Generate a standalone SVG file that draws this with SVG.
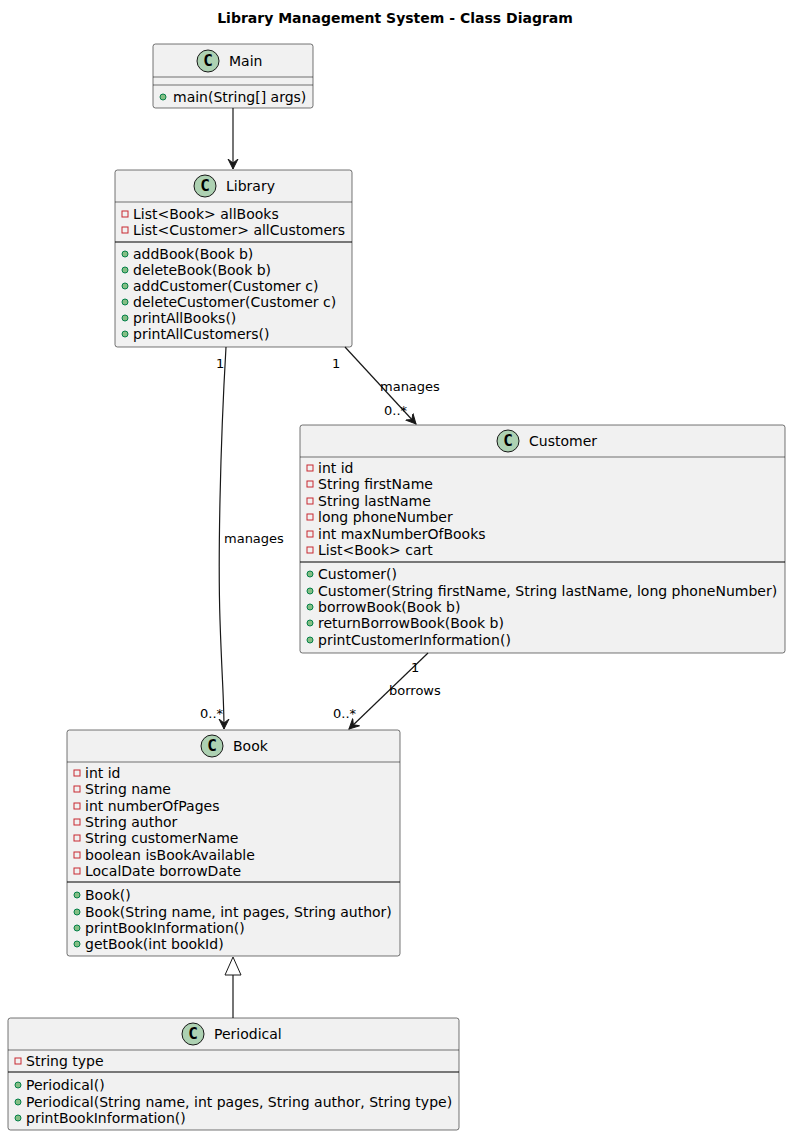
<svg xmlns="http://www.w3.org/2000/svg" width="791" height="1136" viewBox="0 0 791 1136">
<defs>
<style>
text{font-family:"DejaVu Sans",sans-serif;font-size:14px;fill:#000}
.box{fill:#F1F1F1;stroke:#181818;stroke-width:0.6}
.sep{stroke:#181818;stroke-width:0.6}
.sepb{stroke:#000;stroke-width:1.2}
.ic{fill:#ADD1B2;stroke:#181818;stroke-width:1}
.ict{font-family:"DejaVu Sans Mono",monospace;font-weight:bold;font-size:16px;text-anchor:middle}
.pv{fill:none;stroke:#C82930;stroke-width:1}
.pb{fill:#84BE84;stroke:#038048;stroke-width:1}
.e{stroke:#181818;stroke-width:1.2;fill:none}
.lb{font-size:13px}
.title{font-weight:bold;font-size:14px;text-anchor:middle}
</style>
<marker id="arr" markerWidth="12" markerHeight="12" refX="10" refY="6" orient="auto" markerUnits="userSpaceOnUse"><path d="M0,1 L10,6 L0,11 L4,6 Z" fill="#181818" stroke="#181818" stroke-width="1"/></marker>
</defs>
<rect width="791" height="1136" fill="#fff"/>
<text class="title" x="395" y="23">Library Management System - Class Diagram</text>

<g id="Main">
<rect class="box" x="153" y="44" width="160" height="64" rx="2.5"/>
<circle class="ic" cx="208" cy="61" r="11"/><text class="ict" x="208" y="66">C</text>
<text x="229" y="66">Main</text>
<line class="sep" x1="153" y1="77" x2="313" y2="77"/><line class="sep" x1="153" y1="85" x2="313" y2="85"/>
<circle class="pb" cx="163" cy="97" r="3"/><text x="173" y="102">main(String[] args)</text>
</g>

<g id="Library">
<rect class="box" x="115" y="170" width="237" height="177" rx="2.5"/>
<circle class="ic" cx="205" cy="186" r="11"/><text class="ict" x="205" y="191">C</text>
<text x="226" y="191">Library</text>
<line class="sep" x1="115" y1="202" x2="352" y2="202"/>
<rect class="pv" x="122" y="211" width="6" height="6"/><text x="133" y="219">List&lt;Book&gt; allBooks</text>
<rect class="pv" x="122" y="227" width="6" height="6"/><text x="133" y="235">List&lt;Customer&gt; allCustomers</text>
<line class="sepb" x1="115" y1="242" x2="352" y2="242"/>
<circle class="pb" cx="125" cy="254" r="3"/><text x="133" y="259">addBook(Book b)</text>
<circle class="pb" cx="125" cy="270" r="3"/><text x="133" y="275">deleteBook(Book b)</text>
<circle class="pb" cx="125" cy="286" r="3"/><text x="133" y="291">addCustomer(Customer c)</text>
<circle class="pb" cx="125" cy="302" r="3"/><text x="133" y="307">deleteCustomer(Customer c)</text>
<circle class="pb" cx="125" cy="318" r="3"/><text x="133" y="323">printAllBooks()</text>
<circle class="pb" cx="125" cy="334" r="3"/><text x="133" y="339">printAllCustomers()</text>
</g>

<g id="Customer">
<rect class="box" x="300" y="425" width="485" height="228" rx="2.5"/>
<circle class="ic" cx="508" cy="441" r="11"/><text class="ict" x="508" y="446">C</text>
<text x="529" y="446">Customer</text>
<line class="sep" x1="300" y1="457" x2="785" y2="457"/>
<rect class="pv" x="307" y="465" width="6" height="6"/><text x="318" y="473">int id</text>
<rect class="pv" x="307" y="481" width="6" height="6"/><text x="318" y="489">String firstName</text>
<rect class="pv" x="307" y="498" width="6" height="6"/><text x="318" y="506">String lastName</text>
<rect class="pv" x="307" y="514" width="6" height="6"/><text x="318" y="522">long phoneNumber</text>
<rect class="pv" x="307" y="531" width="6" height="6"/><text x="318" y="539">int maxNumberOfBooks</text>
<rect class="pv" x="307" y="547" width="6" height="6"/><text x="318" y="555">List&lt;Book&gt; cart</text>
<line class="sepb" x1="300" y1="562" x2="785" y2="562"/>
<circle class="pb" cx="310" cy="574" r="3"/><text x="318" y="579">Customer()</text>
<circle class="pb" cx="310" cy="591" r="3"/><text x="318" y="596">Customer(String firstName, String lastName, long phoneNumber)</text>
<circle class="pb" cx="310" cy="607" r="3"/><text x="318" y="612">borrowBook(Book b)</text>
<circle class="pb" cx="310" cy="623" r="3"/><text x="318" y="628">returnBorrowBook(Book b)</text>
<circle class="pb" cx="310" cy="640" r="3"/><text x="318" y="645">printCustomerInformation()</text>
</g>

<g id="Book">
<rect class="box" x="67" y="730" width="333" height="226" rx="2.5"/>
<circle class="ic" cx="212" cy="746" r="11"/><text class="ict" x="212" y="751">C</text>
<text x="233" y="751">Book</text>
<line class="sep" x1="67" y1="762" x2="400" y2="762"/>
<rect class="pv" x="74" y="770" width="6" height="6"/><text x="85" y="778">int id</text>
<rect class="pv" x="74" y="786" width="6" height="6"/><text x="85" y="794">String name</text>
<rect class="pv" x="74" y="803" width="6" height="6"/><text x="85" y="811">int numberOfPages</text>
<rect class="pv" x="74" y="819" width="6" height="6"/><text x="85" y="827">String author</text>
<rect class="pv" x="74" y="835" width="6" height="6"/><text x="85" y="843">String customerName</text>
<rect class="pv" x="74" y="852" width="6" height="6"/><text x="85" y="860">boolean isBookAvailable</text>
<rect class="pv" x="74" y="868" width="6" height="6"/><text x="85" y="876">LocalDate borrowDate</text>
<line class="sepb" x1="67" y1="882" x2="400" y2="882"/>
<circle class="pb" cx="77" cy="895" r="3"/><text x="85" y="900">Book()</text>
<circle class="pb" cx="77" cy="912" r="3"/><text x="85" y="917">Book(String name, int pages, String author)</text>
<circle class="pb" cx="77" cy="928" r="3"/><text x="85" y="933">printBookInformation()</text>
<circle class="pb" cx="77" cy="944" r="3"/><text x="85" y="949">getBook(int bookId)</text>
</g>

<g id="Periodical">
<rect class="box" x="8" y="1018" width="451" height="112" rx="2.5"/>
<circle class="ic" cx="193" cy="1034" r="11"/><text class="ict" x="193" y="1039">C</text>
<text x="214" y="1039">Periodical</text>
<line class="sep" x1="8" y1="1050" x2="459" y2="1050"/>
<rect class="pv" x="15" y="1058" width="6" height="6"/><text x="26" y="1066">String type</text>
<line class="sepb" x1="8" y1="1072" x2="459" y2="1072"/>
<circle class="pb" cx="18" cy="1085" r="3"/><text x="26" y="1090">Periodical()</text>
<circle class="pb" cx="18" cy="1102" r="3"/><text x="26" y="1107">Periodical(String name, int pages, String author, String type)</text>
<circle class="pb" cx="18" cy="1118" r="3"/><text x="26" y="1123">printBookInformation()</text>
</g>

<g id="connectors">
<path class="e" d="M233,108 L233,169" marker-end="url(#arr)"/>
<path class="e" d="M226,347 C220,450 218,560 220,620 C222,680 224,700 224,729" marker-end="url(#arr)"/>
<path class="e" d="M345,347 L416,424" marker-end="url(#arr)"/>
<path class="e" d="M428,653 L349,729" marker-end="url(#arr)"/>
<path class="e" d="M233,1018 L233,975"/>
<polygon points="233,957 225,975 241,975" fill="#fff" stroke="#181818" stroke-width="1"/>
<text class="lb" x="216" y="368">1</text>
<text class="lb" x="224" y="543">manages</text>
<text class="lb" x="200" y="718">0..*</text>
<text class="lb" x="332" y="368">1</text>
<text class="lb" x="380" y="391">manages</text>
<text class="lb" x="384" y="415">0..*</text>
<text class="lb" x="411" y="672">1</text>
<text class="lb" x="389" y="695">borrows</text>
<text class="lb" x="333" y="718">0..*</text>
</g>
</svg>
